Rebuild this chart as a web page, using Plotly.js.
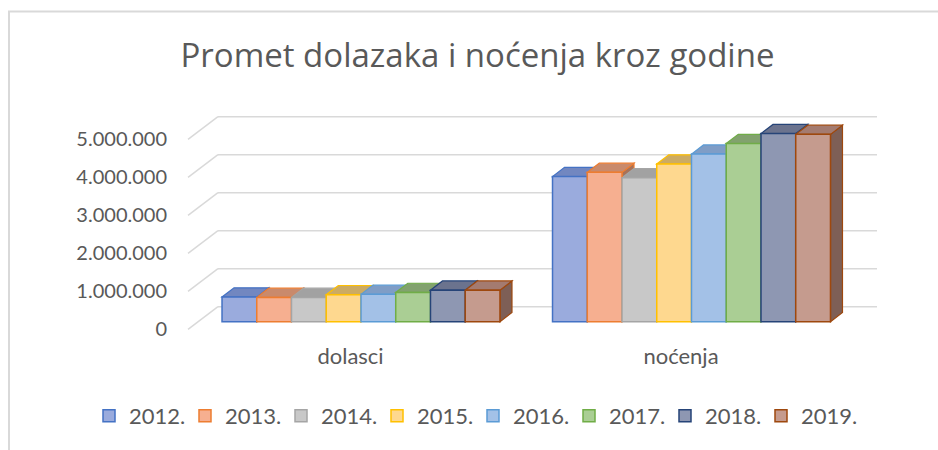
<!DOCTYPE html>
<html>
<head>
<meta charset="utf-8">
<script src="https://cdn.plot.ly/plotly-3.0.1.min.js"></script>
<style>
html, body { margin: 0; padding: 0; background: #ffffff; }
#chart { width: 938px; height: 450px; }
</style>
</head>
<body>
<div id="chart"></div>
<script>
// ---------------- data ----------------
const categories = ['dolasci', 'noćenja'];
const years = ['2012.', '2013.', '2014.', '2015.', '2016.', '2017.', '2018.', '2019.'];
const dolasci = [650000, 640000, 640000, 710000, 720000, 770000, 830000, 830000];
const nocenja = [3820000, 3930000, 3790000, 4150000, 4410000, 4690000, 4950000, 4930000];
const tickValues = [0, 1000000, 2000000, 3000000, 4000000, 5000000];
const tickLabels = ['0', '1.000.000', '2.000.000', '3.000.000', '4.000.000', '5.000.000'];

// ---------------- styles ----------------
const fills   = ['#9AABDD', '#F6AF90', '#C8C8C8', '#FED88F', '#A3C1E7', '#AACE94', '#8E97B2', '#C59B8E'];
const borders = ['#4472C4', '#ED7D31', '#A5A5A5', '#FFC000', '#5B9BD5', '#70AD47', '#264478', '#9E480E'];
const tops    = ['#7287C0', '#C98A6C', '#A2A2A2', '#CCAB63', '#7F9DC6', '#82A26E', '#6B738E', '#A47B70'];
const sides   = ['#5E6F9E', '#A87258', '#878787', '#AA8E52', '#6983A5', '#6C875B', '#596076', '#7E5F56'];
const textColor = '#595959';
const gridColor = '#D9D9D9';
const FONT = 'Lato, "Open Sans", sans-serif';
const TITLE_FONT = '"Open Sans", Lato, sans-serif';

// ---------------- geometry (pixels -> axis units) ----------------
const W = 938, H = 450;
const PL = 172, PR = 900, PT = 95, PB = 335;          // plot area in px
const CAT0 = 361, CATSTEP = 330.5;                     // category centres
const ZERO = 321.7, PXPERM = 38;                       // y: value 0 pixel, px per million
const xu = px => (px - CAT0) / CATSTEP;
const yu = px => (ZERO - px) / PXPERM * 1e6;
const dxu = px => px / CATSTEP;
const dyu = px => px / PXPERM * 1e6;

const BARGAP = 0.159;
const GROUPW = 1 - BARGAP;
const BAR_DX = dxu(12), BAR_DY = dyu(9.2);
const FRONT_X = xu(188), FRONT_OFF = dyu(-7.6);
const BACK_X = xu(218), BACK_OFF = dyu(15);
const RIGHT_X = xu(877);

// ---------------- traces ----------------
const traces = years.map((yr, i) => ({
  type: 'bar',
  name: yr,
  x: categories.map((c, k) => k),
  y: [dolasci[i], nocenja[i]],
  marker: { color: fills[i], line: { color: borders[i], width: 1.5 } },
  hoverinfo: 'skip'
}));

// ---------------- shapes: wall grid + 3D faces ----------------
const shapes = [];
tickValues.forEach(v => {
  shapes.push({ type: 'line', xref: 'x', yref: 'y', layer: 'below',
    x0: BACK_X, y0: v + BACK_OFF, x1: RIGHT_X, y1: v + BACK_OFF,
    line: { color: gridColor, width: 1.5 } });
  shapes.push({ type: 'line', xref: 'x', yref: 'y', layer: 'below',
    x0: FRONT_X, y0: v + FRONT_OFF, x1: BACK_X, y1: v + BACK_OFF,
    line: { color: gridColor, width: 1.5 } });
});
const seriesVals = years.map((yr, i) => [dolasci[i], nocenja[i]]);
const bw = GROUPW / years.length;
const P = (x, y) => x + ',' + y;
categories.forEach((c, k) => {
  years.forEach((yr, i) => {
    const v = seriesVals[i][k];
    const x0 = k - GROUPW / 2 + i * bw, x1 = x0 + bw;
    // right side face
    shapes.push({ type: 'path', xref: 'x', yref: 'y', layer: 'between',
      path: 'M' + P(x1, 0) + 'L' + P(x1 + BAR_DX, BAR_DY) + 'L' + P(x1 + BAR_DX, v + BAR_DY) + 'L' + P(x1, v) + 'Z',
      fillcolor: sides[i], line: { color: borders[i], width: 1.2 } });
    // top face
    shapes.push({ type: 'path', xref: 'x', yref: 'y', layer: 'between',
      path: 'M' + P(x0, v) + 'L' + P(x1, v) + 'L' + P(x1 + BAR_DX, v + BAR_DY) + 'L' + P(x0 + BAR_DX, v + BAR_DY) + 'Z',
      fillcolor: tops[i], line: { color: borders[i], width: 1.2 } });
  });
});
// chart border (left and top)
shapes.push({ type: 'line', xref: 'paper', yref: 'paper', layer: 'above',
  x0: (9 - PL) / (PR - PL), x1: (9 - PL) / (PR - PL), y0: (PB - 11.5) / (PB - PT), y1: (PB - H) / (PB - PT),
  line: { color: gridColor, width: 2 } });
shapes.push({ type: 'line', xref: 'paper', yref: 'paper', layer: 'above',
  x0: (8 - PL) / (PR - PL), x1: (W - PL) / (PR - PL), y0: (PB - 11.5) / (PB - PT), y1: (PB - 11.5) / (PB - PT),
  line: { color: gridColor, width: 2 } });

const layout = {
  width: W, height: H,
  margin: { l: PL, r: W - PR, t: PT, b: H - PB, autoexpand: false },
  paper_bgcolor: '#ffffff', plot_bgcolor: 'rgba(0,0,0,0)',
  font: { family: FONT, color: textColor },
  title: { text: 'Promet dolazaka i noćenja kroz godine',
    font: { family: TITLE_FONT, size: 33, color: textColor },
    xref: 'container', yref: 'container', x: 477.5 / W, xanchor: 'center', y: 1 - 55 / H, yanchor: 'middle' },
  barmode: 'group', bargap: BARGAP, bargroupgap: 0,
  showlegend: true,
  legend: { orientation: 'h', xref: 'paper', yref: 'paper',
    x: (89 - PL) / (PR - PL), xanchor: 'left', y: (PB - 416) / (PB - PT), yanchor: 'middle',
    entrywidth: 51, font: { family: FONT, size: 22, color: textColor }, traceorder: 'normal' },
  xaxis: { range: [xu(PL), xu(PR)], showgrid: false, zeroline: false, showline: false, ticks: '',
    tickmode: 'array', tickvals: categories.map((c, k) => k - dxu(10.5)), ticktext: categories,
    ticklabelstandoff: 6,
    tickfont: { family: FONT, size: 22, color: textColor }, fixedrange: true },
  yaxis: { range: [yu(PB), yu(PT)], showgrid: false, zeroline: false, showline: false, ticks: '',
    tickmode: 'array', tickvals: tickValues.map(v => v + FRONT_OFF), ticktext: tickLabels,
    ticklabelstandoff: 4,
    tickfont: { family: FONT, size: 20, color: textColor }, fixedrange: true },
  shapes: shapes
};

Plotly.newPlot('chart', traces, layout, { displayModeBar: false, staticPlot: true });
</script>
</body>
</html>
